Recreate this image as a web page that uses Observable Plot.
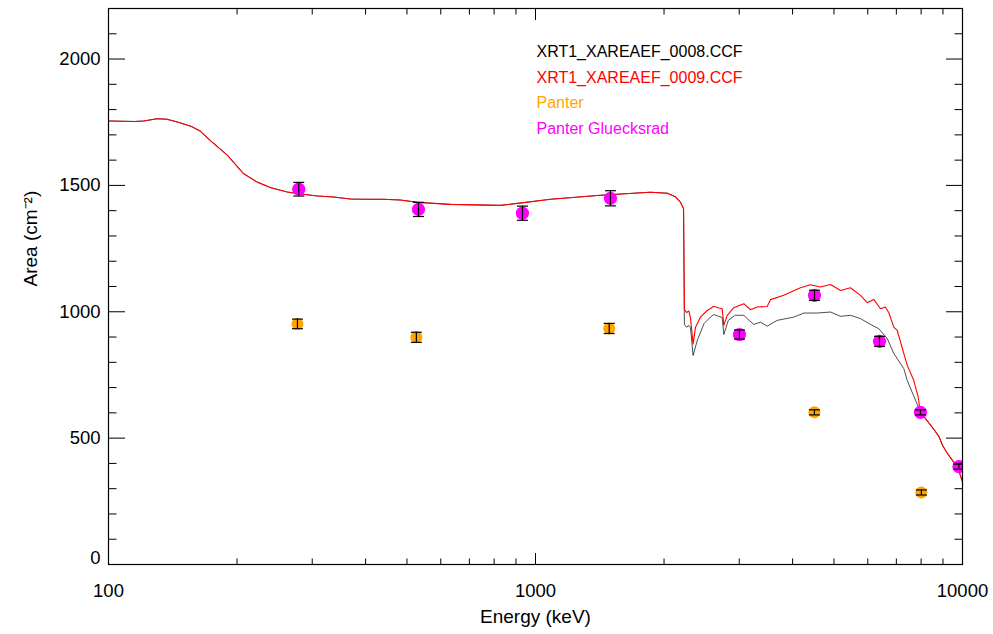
<!DOCTYPE html>
<html>
<head>
<meta charset="utf-8">
<script src="https://cdn.jsdelivr.net/npm/d3@7"></script>
<script src="https://cdn.jsdelivr.net/npm/@observablehq/plot@0.6"></script>
<style>
  html, body { margin: 0; padding: 0; background: #fff; }
  #chart svg { display: block; }
</style>
</head>
<body>
<div id="chart"></div>
<script>
// XRT1 effective area: calibration files (CCF 0008 / 0009) vs. Panter measurements.

// Below the Au-M edges both calibration versions coincide.
const lowEnergy = [100, 115, 121, 130, 137, 145, 156, 164, 173, 190, 207, 223, 240, 262, 282, 309, 337, 369, 403, 441, 483, 529, 632, 828, 908, 1084, 1420, 1696, 1859, 2038, 2131, 2186, 2222];
const lowArea   = [1755, 1753, 1755, 1764, 1762, 1751, 1734, 1715, 1678, 1619, 1547, 1513, 1491, 1474, 1466, 1458, 1454, 1446, 1445, 1445, 1442, 1433, 1425, 1421, 1429, 1445, 1461, 1469, 1473, 1469, 1454, 1433, 1408];

// XRT1_XAREAEF_0008.CCF between the Au-M edge and 8 keV
const ccf08Energy = [2232, 2258, 2287, 2307, 2339, 2393, 2481, 2569, 2616, 2688, 2737, 2761, 2828, 2936, 3075, 3165, 3244, 3365, 3488, 3681, 4027, 4250, 4568, 4909, 5180, 5466, 5769, 6088, 6368, 6663, 6905, 7287, 7423, 7679, 7887];
const ccf08Area   = [950, 939, 946, 937, 827, 887, 953, 979, 989, 982, 977, 910, 966, 986, 986, 966, 950, 959, 943, 966, 979, 995, 995, 999, 982, 986, 973, 950, 933, 894, 835, 775, 728, 669, 622];

// XRT1_XAREAEF_0009.CCF between the Au-M edge and 8 keV
const ccf09Energy = [2232, 2258, 2287, 2307, 2339, 2370, 2435, 2524, 2616, 2688, 2737, 2761, 2812, 2914, 3075, 3188, 3305, 3488, 3551, 3815, 4174, 4406, 4649, 4909, 5180, 5466, 5769, 5982, 6198, 6427, 6601, 6722, 6905, 7033, 7423, 7691, 7880];
const ccf09Area   = [1010, 997, 1003, 975, 872, 939, 979, 1005, 1022, 1015, 1012, 946, 986, 1016, 1032, 1008, 1019, 1021, 1048, 1065, 1095, 1107, 1098, 1108, 1084, 1095, 1065, 1036, 1049, 1012, 1019, 996, 939, 926, 788, 728, 660];

// High-energy tail, common to both versions
const tailEnergy = [7960, 8134, 8297, 8543, 8815, 8977, 9166, 9340, 9617, 9800, 10000];
const tailArea   = [604, 584, 565, 538, 505, 472, 446, 426, 397, 372, 327];

// Panter measurements
const panterEnergy = [277, 526, 1488, 4500, 8010];
const panterArea   = [952, 899, 934, 602, 285];
const panterError  = [19, 20, 20, 10, 10];

// Panter Gluecksrad measurements
const glueckEnergy = [279, 532, 932, 1498, 3004, 4502, 6392, 7970, 9810];
const glueckArea   = [1485, 1405, 1390, 1449, 910, 1065, 883, 602, 387];
const glueckError  = [27, 28, 28, 30, 18, 20, 20, 10, 10];

// Axis ticks
const xMajor = [100, 1000, 10000];
const xMinor = [200, 300, 400, 500, 600, 700, 800, 900, 2000, 3000, 4000, 5000, 6000, 7000, 8000, 9000];
const yMajor = [0, 500, 1000, 1500, 2000];
const yMinor = [100, 200, 300, 400, 600, 700, 800, 900, 1100, 1200, 1300, 1400, 1600, 1700, 1800, 1900, 2100];

const legendLabels = ["XRT1_XAREAEF_0008.CCF", "XRT1_XAREAEF_0009.CCF", "Panter", "Panter Gluecksrad"];
const legendColors = ["#000000", "#ff0000", "#ffa500", "#ff00ff"];

const toRows = (E, A, err) => E.map((e, i) => ({energy: e, area: A[i], err: err ? err[i] : 0}));
const ccf08 = toRows(lowEnergy.concat(ccf08Energy, tailEnergy), lowArea.concat(ccf08Area, tailArea));
const ccf09 = toRows(lowEnergy.concat(ccf09Energy, tailEnergy), lowArea.concat(ccf09Area, tailArea));
const panter = toRows(panterEnergy, panterArea, panterError);
const glueck = toRows(glueckEnergy, glueckArea, glueckError);
const measured = panter.concat(glueck);

// Horizontal cap for error bars
const capSymbol = {
  draw(context, size) {
    const w = Math.sqrt(size / Math.PI);
    context.moveTo(-w, 0);
    context.lineTo(w, 0);
  }
};

const font = "'Liberation Sans', Arial, Helvetica, sans-serif";
const tickFmt = d3.format("d");

const chart = Plot.plot({
  width: 993,
  height: 634,
  marginLeft: 108,
  marginRight: 31,
  marginTop: 8,
  marginBottom: 70,
  style: {fontFamily: font, background: "#fff", color: "#000"},
  x: {type: "log", domain: [100, 10000]},
  y: {domain: [0, 2200]},
  marks: [
    // calibration curves
    Plot.line(ccf08, {x: "energy", y: "area", stroke: "#000", strokeWidth: 0.7, clip: true}),
    Plot.line(ccf09, {x: "energy", y: "area", stroke: "#ff0000", strokeWidth: 1.1, clip: true}),

    // measurements
    Plot.dot(panter, {x: "energy", y: "area", r: 6, fill: "#ffa500", clip: true}),
    Plot.dot(glueck, {x: "energy", y: "area", r: 6.6, fill: "#ff00ff", clip: true}),
    Plot.ruleX(measured, {x: "energy", y1: d => d.area - d.err, y2: d => d.area + d.err, stroke: "#000", strokeWidth: 1.2, clip: true}),
    Plot.dot(measured, {x: "energy", y: d => d.area - d.err, symbol: capSymbol, r: 5.5, stroke: "#000", strokeWidth: 1.2, fill: "none", clip: true}),
    Plot.dot(measured, {x: "energy", y: d => d.area + d.err, symbol: capSymbol, r: 5.5, stroke: "#000", strokeWidth: 1.2, fill: "none", clip: true}),

    // frame and inward ticks on all four sides
    Plot.frame({stroke: "#000", strokeWidth: 1.2}),
    Plot.axisX(xMajor, {anchor: "bottom", tickSize: -11, fill: "none"}),
    Plot.axisX(xMinor, {anchor: "bottom", tickSize: -5.5, fill: "none"}),
    Plot.axisX(xMajor, {anchor: "top", tickSize: -11, fill: "none"}),
    Plot.axisX(xMinor, {anchor: "top", tickSize: -5.5, fill: "none"}),
    Plot.axisY(yMajor, {anchor: "left", tickSize: -17, fill: "none"}),
    Plot.axisY(yMinor, {anchor: "left", tickSize: -8.5, fill: "none"}),
    Plot.axisY(yMajor, {anchor: "right", tickSize: -17, fill: "none"}),
    Plot.axisY(yMinor, {anchor: "right", tickSize: -8.5, fill: "none"}),

    // tick labels
    Plot.axisX(xMajor, {anchor: "bottom", tickSize: 0, tickPadding: 19, tickFormat: tickFmt, fontSize: 18.5, label: null}),
    Plot.axisY(yMajor.slice(1), {anchor: "left", tickSize: 0, tickPadding: 8, tickFormat: tickFmt, fontSize: 18.5, label: null}),
    Plot.axisY(yMajor.slice(0, 1), {anchor: "left", tickSize: 0, tickPadding: 8, tickFormat: tickFmt, fontSize: 18.5, label: null, dy: -6}),

    // axis titles
    Plot.text(["Energy (keV)"], {frameAnchor: "bottom", dy: 58, text: d => d, fontSize: 19}),
    Plot.text(["Area (cm\u207B\u00B2)"], {frameAnchor: "left", dx: -78, rotate: -90, text: d => d, fontSize: 19}),

    // legend
    ...legendLabels.map((label, i) => Plot.text([label], {
      frameAnchor: "top-left", dx: 428, dy: 37 + i * 25.7, text: d => d,
      fill: legendColors[i], textAnchor: "start", fontSize: 16
    }))
  ]
});

document.getElementById("chart").appendChild(chart);
</script>
</body>
</html>
